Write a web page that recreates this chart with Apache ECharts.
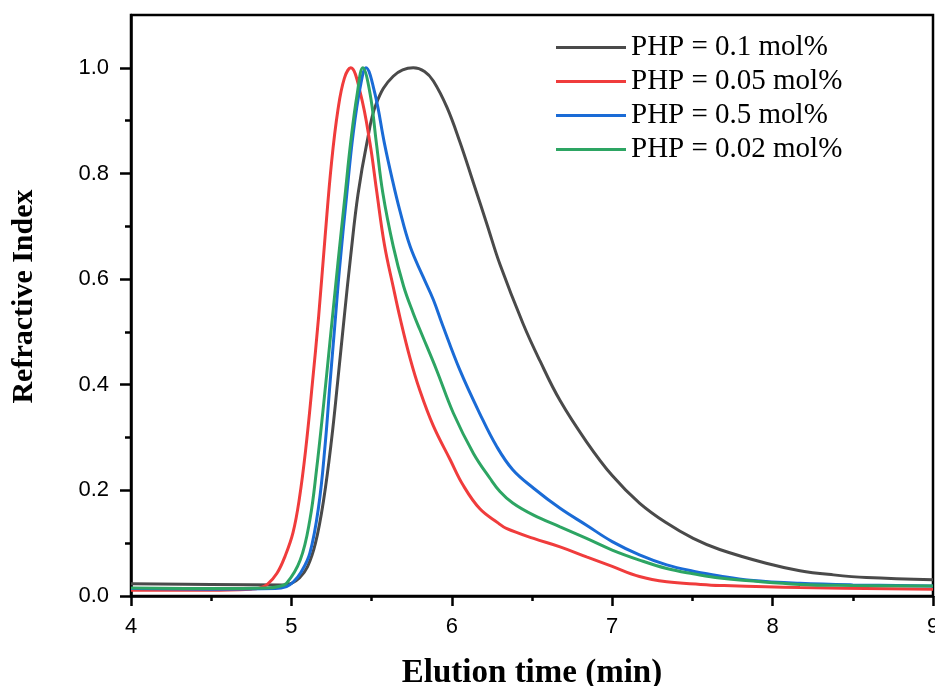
<!DOCTYPE html>
<html>
<head>
<meta charset="utf-8">
<script src="https://cdn.jsdelivr.net/npm/echarts@6/dist/echarts.min.js"></script>
<style>
  html, body { margin: 0; padding: 0; background: #fff; }
  #chart { width: 935px; height: 686px; }
</style>
</head>
<body>
<div id="chart"></div>
<script>
// series names (legend order)
var names = ['PHP = 0.1 mol%', 'PHP = 0.05 mol%', 'PHP = 0.5 mol%', 'PHP = 0.02 mol%']

// PHP = 0.1 mol%
var t_01 = [4.0, 4.5, 4.95, 5.0, 5.05, 5.1, 5.15, 5.2, 5.25, 5.29, 5.33, 5.37, 5.415, 5.47, 5.53, 5.635, 5.76, 5.83, 5.885, 5.97, 6.05, 6.135, 6.22, 6.30, 6.445, 6.55, 6.675, 6.84, 7.0, 7.17, 7.34, 7.505, 7.67, 7.96, 8.17, 8.38, 8.585, 9.0]
var v_01 = [0.023, 0.022, 0.021, 0.024, 0.034, 0.055, 0.10, 0.18, 0.295, 0.41, 0.53, 0.645, 0.76, 0.857, 0.933, 0.984, 1.0, 0.993, 0.975, 0.925, 0.86, 0.782, 0.703, 0.628, 0.515, 0.445, 0.37, 0.292, 0.228, 0.176, 0.138, 0.109, 0.088, 0.062, 0.048, 0.040, 0.035, 0.031]

// PHP = 0.05 mol%
var t_005 = [4.0, 4.5, 4.75, 4.8, 4.85, 4.91, 4.96, 5.01, 5.05, 5.09, 5.13, 5.17, 5.21, 5.25, 5.29, 5.33, 5.37, 5.43, 5.49, 5.53, 5.58, 5.635, 5.68, 5.74, 5.80, 5.885, 5.99, 6.07, 6.175, 6.29, 6.34, 6.51, 6.675, 6.84, 7.0, 7.17, 7.34, 7.55, 7.67, 8.17, 9.0]
var v_005 = [0.011, 0.011, 0.013, 0.015, 0.022, 0.043, 0.075, 0.12, 0.185, 0.28, 0.40, 0.53, 0.68, 0.82, 0.92, 0.98, 1.0, 0.952, 0.857, 0.77, 0.665, 0.585, 0.523, 0.45, 0.39, 0.322, 0.258, 0.21, 0.165, 0.138, 0.128, 0.109, 0.093, 0.074, 0.056, 0.037, 0.027, 0.022, 0.020, 0.016, 0.013]

// PHP = 0.5 mol%
var t_05 = [4.0, 4.5, 4.9, 4.97, 5.01, 5.06, 5.115, 5.17, 5.21, 5.24, 5.27, 5.30, 5.345, 5.385, 5.43, 5.465, 5.52, 5.58, 5.625, 5.675, 5.74, 5.82, 5.885, 5.94, 6.05, 6.175, 6.28, 6.38, 6.51, 6.675, 6.84, 7.0, 7.17, 7.34, 7.505, 7.67, 7.86, 8.17, 8.5, 9.0]
var v_05 = [0.014, 0.013, 0.014, 0.018, 0.026, 0.045, 0.081, 0.17, 0.285, 0.40, 0.51, 0.62, 0.76, 0.875, 0.965, 1.0, 0.952, 0.857, 0.794, 0.731, 0.662, 0.605, 0.561, 0.515, 0.428, 0.345, 0.283, 0.239, 0.204, 0.166, 0.134, 0.103, 0.078, 0.059, 0.047, 0.038, 0.030, 0.024, 0.021, 0.019]

// PHP = 0.02 mol%
var t_002 = [4.0, 4.5, 4.85, 4.92, 4.97, 5.055, 5.115, 5.157, 5.2, 5.24, 5.29, 5.335, 5.37, 5.41, 5.445, 5.49, 5.53, 5.57, 5.635, 5.70, 5.76, 5.80, 5.905, 6.01, 6.135, 6.24, 6.30, 6.38, 6.51, 6.675, 6.84, 7.0, 7.17, 7.34, 7.505, 7.67, 8.17, 8.5, 9.0]
var v_002 = [0.015, 0.014, 0.015, 0.018, 0.024, 0.068, 0.144, 0.24, 0.36, 0.48, 0.63, 0.76, 0.86, 0.95, 1.0, 0.952, 0.857, 0.763, 0.662, 0.586, 0.535, 0.505, 0.428, 0.346, 0.27, 0.222, 0.198, 0.176, 0.153, 0.131, 0.109, 0.087, 0.068, 0.052, 0.042, 0.034, 0.022, 0.020, 0.019]

// axis ticks
var x_major = [4, 5, 6, 7, 8, 9]
var x_minor = [4.5, 5.5, 6.5, 7.5, 8.5]
var y_major = [0, 0.2, 0.4, 0.6, 0.8, 1.0]
var y_minor = [0.1, 0.3, 0.5, 0.7, 0.9]

var colors = ['#4a4a4a', '#f03c3c', '#1a6bd6', '#2da563']

function pairs(t, v) {
  var out = []
  for (var i = 0; i < t.length; ++i) {
    out.push([t[i], v[i]])
  }
  return out
}

var all_t = [t_01, t_005, t_05, t_002]
var all_v = [v_01, v_005, v_05, v_002]

var series = []
for (var i = 0; i < names.length; ++i) {
  series.push({
    name: names[i],
    type: 'line',
    xAxisIndex: 0,
    yAxisIndex: 0,
    data: pairs(all_t[i], all_v[i]),
    smooth: 0.4,
    showSymbol: false,
    symbol: 'none',
    color: colors[i],
    lineStyle: { width: 3, color: colors[i] },
    emphasis: { disabled: true }
  })
}

var axis_font = { fontFamily: 'Liberation Sans', fontSize: 22, color: '#000' }

var chart = echarts.init(document.getElementById('chart'), null, { renderer: 'canvas' })
chart.setOption({
  animation: false,
  backgroundColor: '#fff',
  grid: {
    left: 131, right: 2, top: 15, bottom: 90,
    containLabel: false,
    outerBoundsMode: 'none',
    show: true, borderColor: '#000', borderWidth: 2.5
  },
  legend: {
    orient: 'vertical',
    left: 551,
    top: 28,
    itemWidth: 70,
    itemHeight: 3,
    itemGap: 5,
    icon: 'rect',
    data: names,
    textStyle: { fontFamily: 'Liberation Serif', fontSize: 29, lineHeight: 29, color: '#000' }
  },
  xAxis: [
    {
      type: 'value', min: 4, max: 9, interval: 1,
      name: 'Elution time (min)',
      nameLocation: 'middle',
      nameGap: 61,
      nameTextStyle: { fontFamily: 'Liberation Serif', fontWeight: 'bold', fontSize: 33, color: '#000' },
      axisLine: { show: true, lineStyle: { color: '#000', width: 2.5 } },
      axisTick: { show: true, inside: false, length: 10, customValues: x_major, lineStyle: { color: '#000', width: 2.5 } },
      axisLabel: Object.assign({ margin: 20, customValues: x_major }, axis_font),
      splitLine: { show: false }
    },
    {
      type: 'value', min: 4, max: 9, position: 'bottom',
      axisLine: { show: false },
      axisTick: { show: true, inside: false, length: 5, customValues: x_minor, lineStyle: { color: '#000', width: 2.5 } },
      axisLabel: { show: false },
      splitLine: { show: false }
    }
  ],
  yAxis: [
    {
      type: 'value', min: 0, max: 1.1, interval: 0.2,
      name: 'Refractive Index',
      nameLocation: 'middle',
      nameRotate: 90,
      nameGap: 92,
      nameTextStyle: { fontFamily: 'Liberation Serif', fontWeight: 'bold', fontSize: 30, color: '#000', padding: [0, 0, 0, 18] },
      axisLine: { show: true, lineStyle: { color: '#000', width: 2.5 } },
      axisTick: { show: true, inside: false, length: 11, customValues: y_major, lineStyle: { color: '#000', width: 2.5 } },
      axisLabel: Object.assign({
        margin: 22,
        customValues: y_major,
        formatter: function (v) { return v.toFixed(1) }
      }, axis_font),
      splitLine: { show: false }
    },
    {
      type: 'value', min: 0, max: 1.1, position: 'left',
      axisLine: { show: false },
      axisTick: { show: true, inside: false, length: 6, customValues: y_minor, lineStyle: { color: '#000', width: 2.5 } },
      axisLabel: { show: false },
      splitLine: { show: false }
    }
  ],
  series: series
})
</script>
</body>
</html>
